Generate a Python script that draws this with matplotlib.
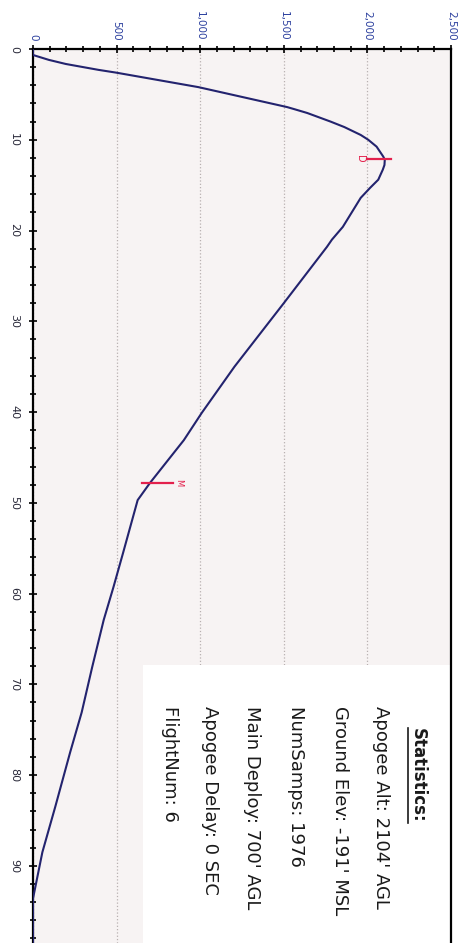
import numpy as np
import matplotlib.pyplot as plt
from matplotlib.ticker import MultipleLocator, FuncFormatter
from matplotlib.patches import Rectangle
from matplotlib.lines import Line2D

# flight data (time in s, altitude in ft AGL)
time_s = [0, 0.66, 1.2, 1.65, 2.3, 2.6, 4.2, 6.4, 6.64, 7.05, 8.0, 8.6, 9.47,
          10.0, 10.76, 11.86, 12.2, 12.78, 13.3, 14.4, 15.3, 16.4, 19.6, 21.0,
          21.8, 28.0, 35.0, 40.1, 43.1, 47.8, 49.7, 55.5, 59.3, 62.9, 68.1,
          73.1, 77.5, 83.5, 88.5, 93.6, 98.5]
alt_ft = [0, 0, 95, 196, 392, 496, 989, 1520, 1565, 1640, 1780, 1862, 1960,
          2005, 2055, 2095, 2104, 2102, 2092, 2065, 2016, 1960, 1853, 1788,
          1758, 1500, 1205, 1009, 902, 700, 626, 539, 481, 423, 354,
          291, 222, 133, 56, 0, 0]

# event markers (drogue / main)
event_names = ['D', 'M']
event_times = [12.1, 47.8]
event_lo = [1998, 654]
event_hi = [2141, 840]

stats_title = 'Statistics:'
stats_lines = ["Apogee Alt: 2104' AGL",
               "Ground Elev: -191' MSL",
               "NumSamps: 1976",
               "Main Deploy: 700' AGL",
               "Apogee Delay: 0 SEC",
               "FlightNum: 6"]

fig = plt.figure(figsize=(4.68, 9.43), dpi=100)
ax = fig.add_axes([33/468, 0, 418/468, 894/943], facecolor='#f7f3f3')

ax.plot(alt_ft, time_s, color='#23236e', lw=1.5, zorder=3)

for name, et, lo, hi in zip(event_names, event_times, event_lo, event_hi):
    ax.plot([lo, hi], [et, et], color='#e3204c', lw=1.6, zorder=4)
    if name == 'D':
        ax.text(lo - 12, et, name, color='#e3204c', fontsize=7, rotation=-90,
                ha='right', va='center', zorder=4)
    else:
        ax.text(hi + 5, et, name, color='#e3204c', fontsize=6, rotation=-90,
                ha='left', va='center', zorder=4)

ax.set_xlim(0, 2500)
ax.set_ylim(98.5, 0)
ax.xaxis.tick_top()
ax.xaxis.set_major_locator(MultipleLocator(500))
ax.xaxis.set_minor_locator(MultipleLocator(100))
ax.yaxis.set_major_locator(MultipleLocator(10))
ax.yaxis.set_minor_locator(MultipleLocator(2))
ax.xaxis.set_major_formatter(FuncFormatter(lambda v, p: f'{int(v):,}'))

ax.tick_params(axis='both', which='both', direction='inout', width=1.2)
ax.tick_params(axis='both', which='major', length=6)
ax.tick_params(axis='both', which='minor', length=5)
ax.tick_params(axis='x', labelrotation=-90, labelsize=7.5, labelcolor='#2b3f9e', pad=3)
ax.tick_params(axis='y', labelrotation=-90, labelsize=8, labelcolor='#2a2a3a', pad=7)
for lab in ax.get_yticklabels():
    lab.set_va('center')

ax.grid(axis='x', which='major', color='#b8b0b0', ls=':', lw=0.9)
ax.set_axisbelow(True)

ax.spines['bottom'].set_visible(False)
for s in ['top', 'left', 'right']:
    ax.spines[s].set_linewidth(1.6)

# statistics box
ax.add_patch(Rectangle((0.263, 0), 0.74, 0.311, transform=ax.transAxes,
                       facecolor='white', edgecolor='none', zorder=1))

title = ax.text(0.921, 0.2405, stats_title, transform=ax.transAxes, rotation=-90,
                ha='center', va='top', fontsize=12, fontweight='bold',
                family='DejaVu Sans', color='#1a1a1a', zorder=5)
xs = [0.833, 0.734, 0.629, 0.524, 0.423, 0.328]
for x, line in zip(xs, stats_lines):
    ax.text(x, 0.265, line, transform=ax.transAxes, rotation=-90,
            ha='center', va='top', fontsize=13, family='DejaVu Sans',
            color='#1a1a1a', zorder=5)

fig.canvas.draw()
bb = title.get_window_extent()
fig.add_artist(Line2D([bb.x0 - 1, bb.x0 - 1], [bb.y0, bb.y1], transform=None,
                      color='#1a1a1a', lw=1.2))

plt.savefig('out.png', dpi=100)
plt.close()
